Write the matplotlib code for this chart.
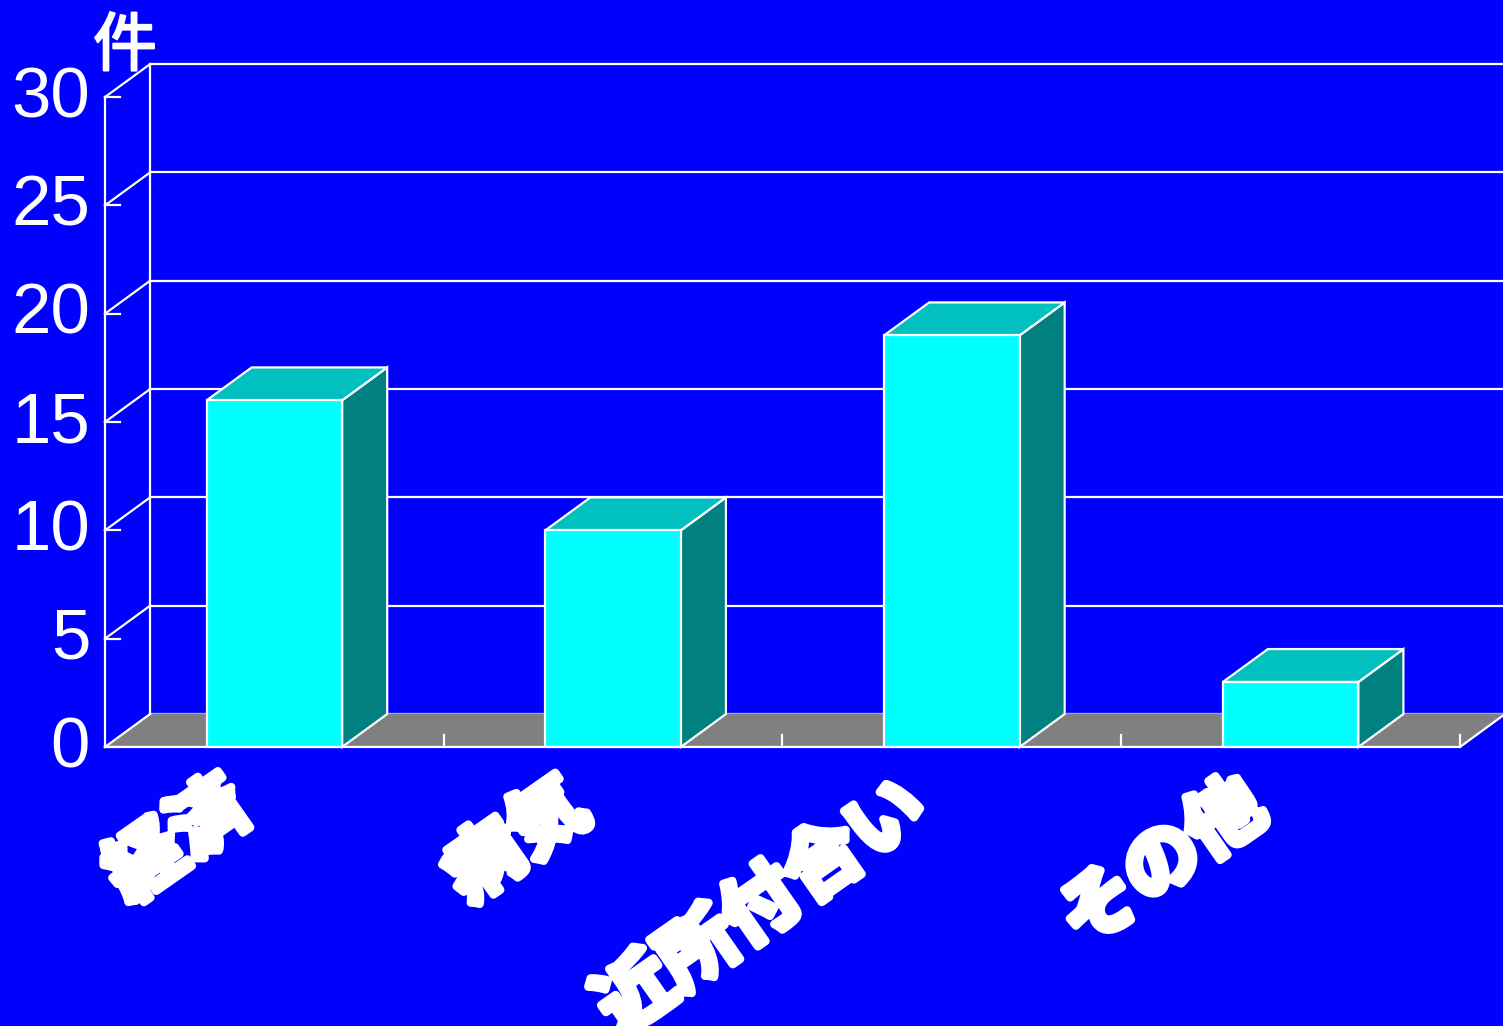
import matplotlib.pyplot as plt
import matplotlib.patheffects as pe

categories = ['経済', '病気', '近所付合い', 'その他']
counts = [16, 10, 19, 3]
yticks = [0, 5, 10, 15, 20, 25, 30]
unit = '件'

# 3D look: depth offset in data units (x in category widths, y in counts)
dx, dy = 0.133, 1.52
bw = 0.40
edge = 'white'
lw = 1.6

fig = plt.figure(figsize=(15.03, 10.26), dpi=100)
fig.patch.set_facecolor('#0000ff')
ax = fig.add_axes([0, 0, 1, 1])
ax.set_facecolor('#0000ff')
ax.set_xlim(-0.31, 4.127)
ax.set_ylim(-12.88, 34.48)
ax.axis('off')

n = len(categories)
ymax = yticks[-1]

# back wall grid
for t in yticks:
    ax.plot([dx, n + dx], [t + dy, t + dy], color=edge, lw=lw, zorder=1)
ax.plot([dx, dx], [dy, ymax + dy], color=edge, lw=lw, zorder=1)

# floor
ax.fill([0, n, n + dx, dx], [0, 0, dy, dy], color='#808080', zorder=1)
ax.plot([0, n, n + dx], [0, 0, dy], color=edge, lw=lw, zorder=2)
for k in range(1, n + 1):
    ax.plot([k, k], [0, 0.55], color=edge, lw=lw, zorder=2)

# left wall: front axis, connectors and ticks
ax.plot([0, 0], [0, ymax], color=edge, lw=lw, zorder=2)
for t in yticks:
    ax.plot([0, dx], [t, t + dy], color=edge, lw=lw, zorder=2)
    ax.plot([0, 0.044], [t, t], color=edge, lw=lw, zorder=2)
    ax.text(-0.044, t - 0.1, str(t), color='white', fontsize=51,
            family='Liberation Sans', ha='right', va='center')

ax.text(0.059, 32.3, unit, color='white', fontsize=46,
        family=['Noto Sans CJK JP', 'DejaVu Sans'], ha='center', va='center',
        path_effects=[pe.withStroke(linewidth=1.5, foreground='white')])

# bars
for i, v in enumerate(counts):
    c = i + 0.5
    x0, x1 = c - bw / 2, c + bw / 2
    ax.fill([x1, x1 + dx, x1 + dx, x1], [0, dy, v + dy, v],
            facecolor='#008080', edgecolor=edge, lw=lw, zorder=3)
    ax.fill([x0, x1, x1 + dx, x0 + dx], [v, v, v + dy, v + dy],
            facecolor='#00c0c0', edgecolor=edge, lw=lw, zorder=3)
    ax.fill([x0, x1, x1, x0], [0, 0, v, v],
            facecolor='#00ffff', edgecolor=edge, lw=lw, zorder=4)
    ax.text(c - 0.165, -0.9, categories[i], color='white', fontsize=55,
            fontweight='bold', family=['Noto Sans CJK JP', 'DejaVu Sans'],
            rotation=35, rotation_mode='anchor', ha='right', va='top',
            path_effects=[pe.withStroke(linewidth=6, foreground='white')])

fig.savefig('out.png', dpi=100, facecolor=fig.get_facecolor())
